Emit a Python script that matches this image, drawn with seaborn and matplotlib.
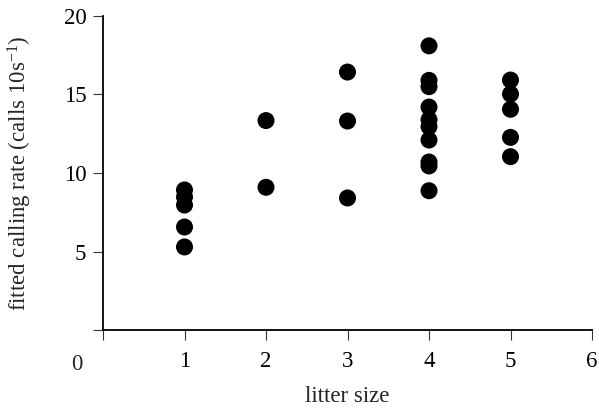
import matplotlib
matplotlib.use("Agg")
import matplotlib.pyplot as plt
import seaborn as sns
import pandas as pd

litter_1 = [8.92, 8.47, 7.96, 6.56, 5.29]
litter_2 = [13.34, 9.09]
litter_3 = [16.43, 13.31, 8.41]
litter_4 = [18.1, 15.9, 15.5, 14.2, 13.4, 12.95, 12.1, 10.7, 10.45, 8.87]
litter_5 = [15.92, 15.03, 14.06, 12.27, 11.04]

x_ticks = [0, 1, 2, 3, 4, 5, 6]
x_ticklabels = ["", "1", "2", "3", "4", "5", "6"]
y_ticks = [0, 5, 10, 15, 20]
y_ticklabels = ["", "5", "10", "15", "20"]

rows = []
for size, vals in zip([1, 2, 3, 4, 5], [litter_1, litter_2, litter_3, litter_4, litter_5]):
    for v in vals:
        rows.append({"litter size": size, "rate": v})
df = pd.DataFrame(rows)

sns.set_style("ticks")
plt.rcParams["font.family"] = ["Liberation Serif", "DejaVu Serif"]
plt.rcParams["mathtext.fontset"] = "custom"
plt.rcParams["mathtext.rm"] = "Liberation Serif"
plt.rcParams["mathtext.it"] = "Liberation Serif:italic"

FS = 16.5

fig = plt.figure(figsize=(5.99, 4.12), dpi=100)
ax = fig.add_axes([103 / 599, 1 - 330 / 412, (592 - 103) / 599, (330 - 16) / 412])

sns.scatterplot(data=df, x="litter size", y="rate", ax=ax, color="black",
                s=150, linewidth=0, edgecolor="none", clip_on=False)

ax.set_xlim(0, 6)
ax.set_ylim(0, 20)
ax.set_xticks(x_ticks)
ax.set_xticklabels(x_ticklabels)
ax.set_yticks(y_ticks)
ax.set_yticklabels(y_ticklabels)
ax.annotate("0", xy=(0, 0), xycoords="data", xytext=(-19, -25),
            textcoords="offset points", ha="center", va="center", fontsize=FS)

for s in ["top", "right"]:
    ax.spines[s].set_visible(False)
for s in ["left", "bottom"]:
    ax.spines[s].set_linewidth(1.3)
    ax.spines[s].set_color("black")

ax.tick_params(axis="both", direction="out", length=7, width=0.8, color="#333333",
               labelsize=FS, labelcolor="black")
ax.tick_params(axis="y", pad=5)
ax.tick_params(axis="x", pad=8)

ax.set_xlabel("litter size", fontsize=FS, labelpad=10)
ax.set_ylabel("fitted calling rate (calls 10s$^{-1}$)", fontsize=FS, labelpad=21)

fig.savefig("out.png", dpi=100)
